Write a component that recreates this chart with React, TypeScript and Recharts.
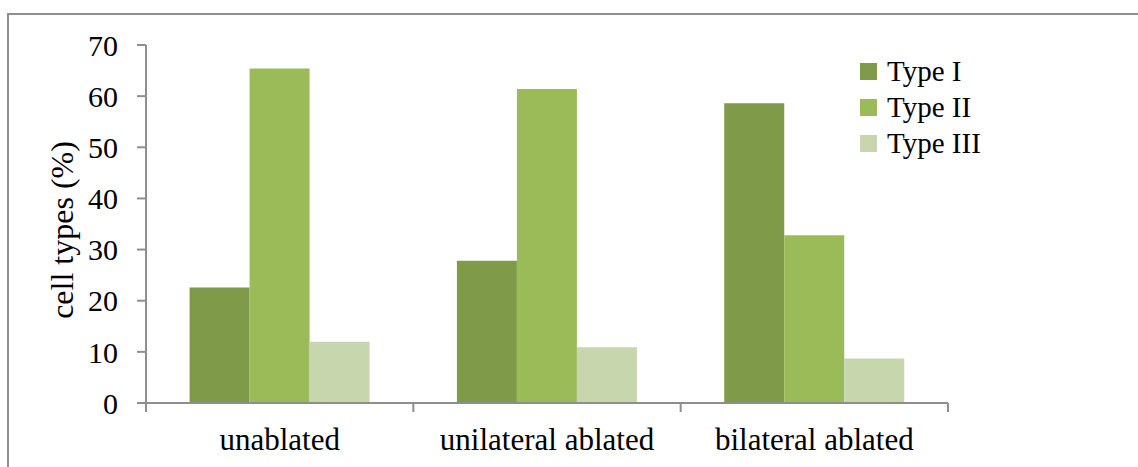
import { BarChart, Bar, XAxis, YAxis, Legend } from "recharts";

// Values
const categories = ["unablated", "unilateral ablated", "bilateral ablated"];
const typeI = [22.6, 27.8, 58.6];
const typeII = [65.4, 61.4, 32.8];
const typeIII = [12.0, 10.9, 8.7];
const yTicks = [0, 10, 20, 30, 40, 50, 60, 70];

const seriesNames = ["Type I", "Type II", "Type III"];
const colors = ["#7F9A48", "#9BBB59", "#C7D6AD"];

const data = categories.map((name, i) => ({
  name,
  t1: typeI[i],
  t2: typeII[i],
  t3: typeIII[i],
}));

const FONT = "'Times New Roman', Times, 'Liberation Serif', 'Noto Serif', 'DejaVu Serif', serif";
const AXIS = "#8E8E8E";

// category label plus Excel-style tick marks on the category boundaries
const CatTick = ({ x, y, payload, index, visibleTicksCount }: any) => {
  const half = payload.offset || 0;
  const last = index === (visibleTicksCount ?? categories.length) - 1;
  return (
    <g>
      <line x1={x - half} x2={x - half} y1={y} y2={y + 9} stroke={AXIS} strokeWidth={2} />
      {last && <line x1={x + half} x2={x + half} y1={y} y2={y + 9} stroke={AXIS} strokeWidth={2} />}
      <text x={x} y={y + 47} textAnchor="middle" style={{ fontFamily: FONT }} fontSize={31} fill="#000">
        {payload.value}
      </text>
    </g>
  );
};

const YLabel = ({ viewBox }: any) => {
  const cx = viewBox.x + 62;
  const cy = viewBox.y + viewBox.height / 2 + 6;
  return (
    <text
      x={cx}
      y={cy}
      transform={`rotate(-90 ${cx} ${cy})`}
      textAnchor="middle"
      dominantBaseline="central"
      style={{ fontFamily: FONT }}
      fontSize={32}
      fill="#000"
    >
      cell types (%)
    </text>
  );
};

const LegendBox = () => (
  <div style={{ fontFamily: FONT, fontSize: 29, color: "#000" }}>
    {seriesNames.map((s, i) => (
      <div key={s} style={{ display: "flex", alignItems: "center", height: 36 }}>
        <span style={{ width: 17, height: 17, background: colors[i], marginRight: 10, display: "inline-block" }} />
        <span style={{ lineHeight: "36px" }}>{s}</span>
      </div>
    ))}
  </div>
);

export default function App() {
  return (
    <div style={{ position: "absolute", top: 0, left: 0, width: 1138, height: 467, background: "#fff", fontFamily: FONT }}>
      <div
        style={{
          position: "absolute",
          top: 13,
          left: 7,
          right: 0,
          bottom: 0,
          borderTop: `2px solid ${AXIS}`,
          borderLeft: `2px solid ${AXIS}`,
        }}
      />
      <BarChart
        width={1138}
        height={467}
        data={data}
        margin={{ top: 45, right: 190, bottom: 0, left: 0 }}
        barGap={0}
        barCategoryGap="16.3%"
      >
        <XAxis
          dataKey="name"
          height={64}
          axisLine={{ stroke: AXIS, strokeWidth: 2 }}
          tickLine={false}
          tickSize={0}
          tickMargin={0}
          tick={<CatTick />}
          interval={0}
        />
        <YAxis
          width={146}
          domain={[0, 70]}
          ticks={yTicks}
          interval={0}
          tickSize={9}
          tickMargin={19}
          axisLine={{ stroke: AXIS, strokeWidth: 2 }}
          tickLine={{ stroke: AXIS, strokeWidth: 2 }}
          tick={{ style: { fontFamily: FONT }, fontSize: 30, fill: "#000" }}
          label={<YLabel />}
        />
        <Legend
          layout="vertical"
          align="center"
          verticalAlign="middle"
          wrapperStyle={{ top: 53, left: 860, width: 220 }}
          content={<LegendBox />}
        />
        <Bar dataKey="t1" name={seriesNames[0]} fill={colors[0]} isAnimationActive={false} />
        <Bar dataKey="t2" name={seriesNames[1]} fill={colors[1]} isAnimationActive={false} />
        <Bar dataKey="t3" name={seriesNames[2]} fill={colors[2]} isAnimationActive={false} />
      </BarChart>
    </div>
  );
}
